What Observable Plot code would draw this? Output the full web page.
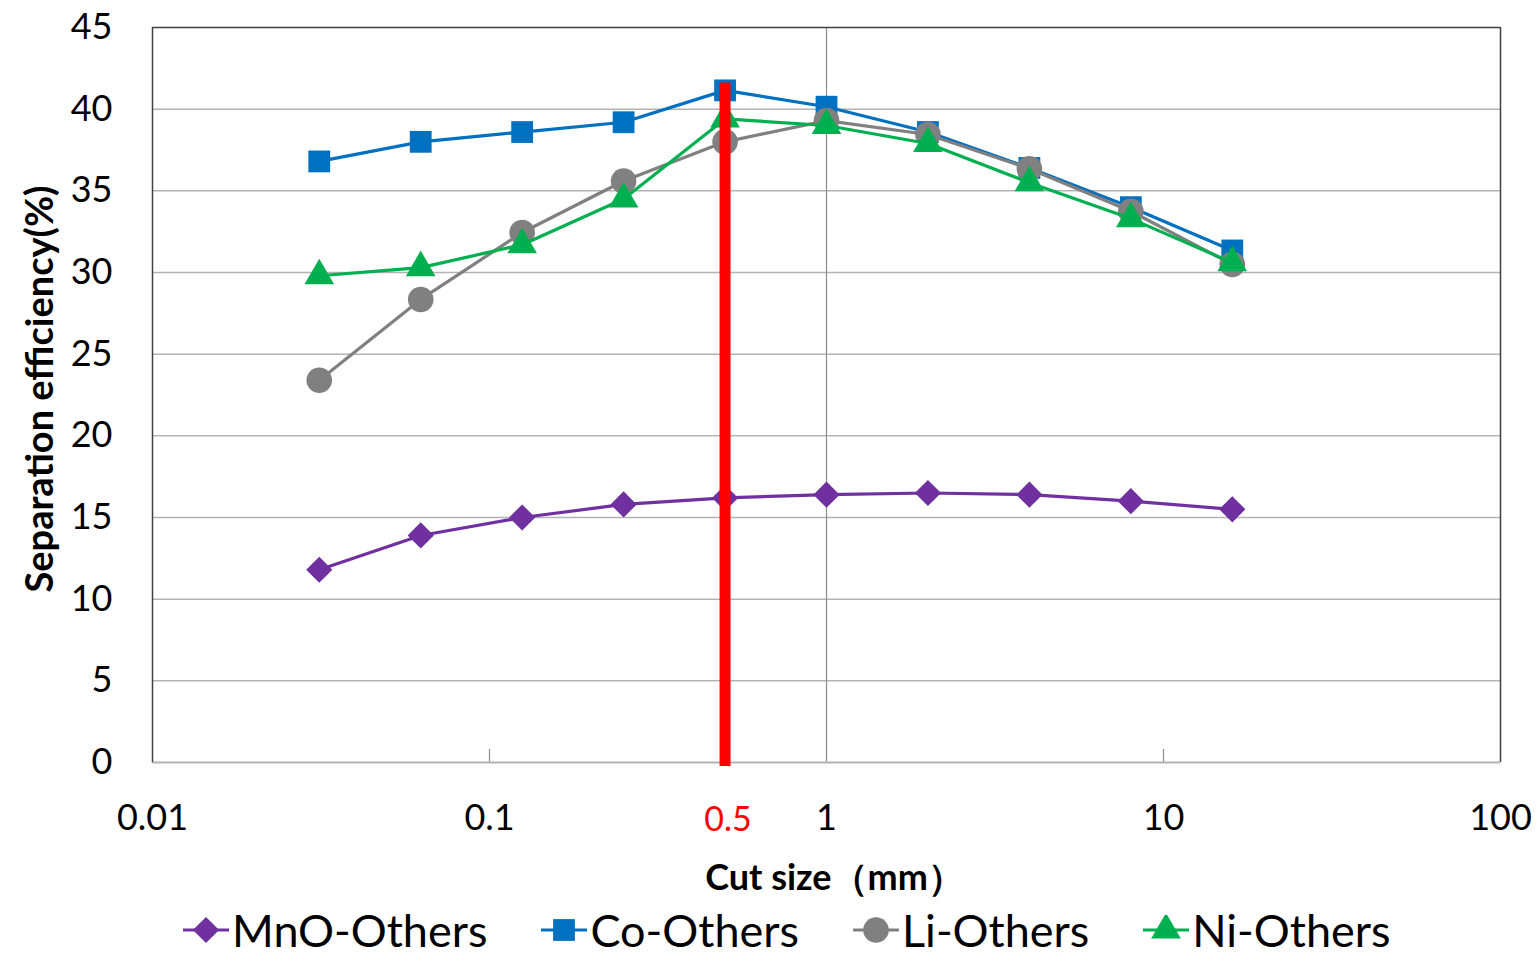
<!DOCTYPE html>
<html><head><meta charset="utf-8">
<script src="https://cdn.jsdelivr.net/npm/d3@7"></script>
<script src="https://cdn.jsdelivr.net/npm/@observablehq/plot@0.6"></script>
<style>
body{margin:0;background:#fff;font-family:Lato,"Open Sans",sans-serif;overflow:hidden;}
#legend{display:flex;align-items:center;margin-left:183px;gap:54px;height:80px;font-size:45px;color:#000;line-height:1;}
.item{display:flex;align-items:center;}
.item svg{margin-right:3px;}
</style></head><body>
<div id="chart"></div>
<div id="legend"></div>
<script>
// data
const cutSize = [0.03125, 0.0625, 0.125, 0.25, 0.5, 1, 2, 4, 8, 16];
const mnoOthers = [11.8, 13.9, 15.0, 15.8, 16.2, 16.4, 16.5, 16.4, 16.0, 15.5];
const coOthers  = [36.8, 38.0, 38.6, 39.2, 41.15, 40.15, 38.6, 36.4, 34.0, 31.35];
const liOthers  = [23.4, 28.35, 32.45, 35.6, 38.0, 39.3, 38.45, 36.35, 33.75, 30.5];
const niOthers  = [29.8, 30.3, 31.7, 34.5, 39.4, 39.0, 37.9, 35.5, 33.3, 30.6];
const seriesNames = ["MnO-Others", "Co-Others", "Li-Others", "Ni-Others"];
const seriesValues = [mnoOthers, coOthers, liOthers, niOthers];
const yTicks = [0, 5, 10, 15, 20, 25, 30, 35, 40, 45];
const xTicks = [0.01, 0.1, 1, 10, 100];
const xTickLabels = ["0.01", "0.1", "1", "10", "100"];
const highlightCut = [0.5];
const highlightLabel = ["0.5"];
const highlightTop = 41.6;
const minorTicks = [0.1, 10];
const yLabel = "Separation efficiency(%)";
const xLabel = "Cut size（mm）";

// styles
const seriesColors = ["#7030A0", "#0070C0", "#808080", "#00B050"];
const seriesSymbols = ["diamond2", "square", "circle", "triangle"];
const seriesR = [11.8, 12.3, 12.8, 11];

const rows = seriesNames.map((s, k) => cutSize.map((x, i) => ({series: s, x, y: seriesValues[k][i]})));

const seriesMarks = [];
rows.forEach((r, k) => {
  seriesMarks.push(Plot.line(r, {x: "x", y: "y", stroke: seriesColors[k], strokeWidth: 3.2}));
  seriesMarks.push(Plot.dot(r, {x: "x", y: "y", symbol: seriesSymbols[k], r: seriesR[k], fill: seriesColors[k], stroke: "none"}));
});

const chart = Plot.plot({
  width: 1537, height: 890,
  marginLeft: 152, marginRight: 37, marginTop: 27, marginBottom: 128,
  x: {type: "log", domain: [0.01, 100], axis: null},
  y: {domain: [0, 45], axis: null},
  style: {fontFamily: "Lato, 'Open Sans', sans-serif", background: "#fff", overflow: "visible", color: "#000"},
  marks: [
    Plot.ruleY(yTicks.filter(d => d > 0 && d < 45), {stroke: "#b3b3b3", strokeWidth: 1.5}),
    Plot.ruleX([1], {stroke: "#8c8c8c", strokeWidth: 1.2}),
    Plot.ruleX(minorTicks, {y1: 0, y2: 0.8, stroke: "#8c8c8c", strokeWidth: 1.2}),
    Plot.ruleY([0], {stroke: "#b3b3b3", strokeWidth: 2}),
    Plot.ruleX([0.01, 100], {stroke: "#404040", strokeWidth: 1.5}),
    Plot.ruleY([45], {stroke: "#404040", strokeWidth: 1.5}),
    ...seriesMarks,
    Plot.ruleX(highlightCut, {y1: -0.25, y2: highlightTop, stroke: "#ff0000", strokeWidth: 11}),
    Plot.text(yTicks, {x: 0.01, y: d => d, dx: -40, textAnchor: "end", fontSize: 36, fill: "#000"}),
    Plot.text(xTicks, {x: d => d, y: 0, dy: 56, text: (d, i) => xTickLabels[i], fontSize: 36, fill: "#000"}),
    Plot.text(highlightCut, {x: d => d, y: 0, dy: 58, dx: 3, text: (d, i) => highlightLabel[i], fontSize: 34, fill: "#ff0000"}),
    Plot.text([yLabel], {frameAnchor: "left", textAnchor: "middle", lineAnchor: "middle", dx: -112, dy: -6, rotate: -90, fontWeight: "bold", fontSize: 38, fill: "#000"}),
    Plot.text([xLabel], {frameAnchor: "bottom", textAnchor: "middle", lineAnchor: "middle", dy: 116, dx: 8, fontWeight: "bold", fontSize: 36, fill: "#000"})
  ]
});
document.getElementById("chart").appendChild(chart);

// legend
const legend = document.getElementById("legend");
const symMap = {diamond2: d3.symbolDiamond2, square: d3.symbolSquare, circle: d3.symbolCircle, triangle: d3.symbolTriangle};
seriesNames.forEach((name, k) => {
  const item = document.createElement("div");
  item.className = "item";
  const svg = d3.create("svg").attr("width", 46).attr("height", 30);
  svg.append("line").attr("x1", 0).attr("x2", 46).attr("y1", 15).attr("y2", 15)
    .attr("stroke", seriesColors[k]).attr("stroke-width", 3);
  svg.append("path").attr("transform", "translate(23,15)")
    .attr("d", d3.symbol(symMap[seriesSymbols[k]], Math.PI * seriesR[k] * seriesR[k])())
    .attr("fill", seriesColors[k]);
  item.appendChild(svg.node());
  const span = document.createElement("span");
  span.textContent = name;
  item.appendChild(span);
  legend.appendChild(item);
});
</script>
</body></html>
